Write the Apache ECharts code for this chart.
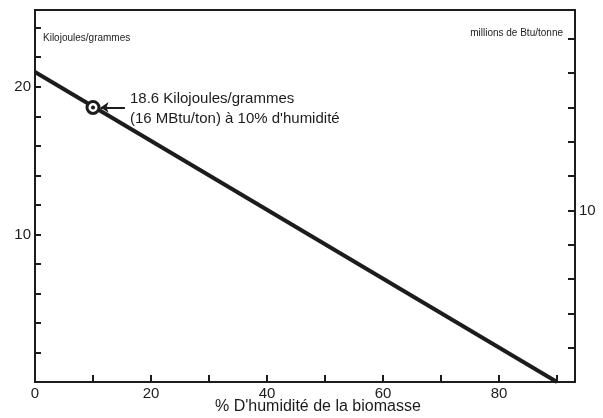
<!DOCTYPE html>
<html>
<head>
<meta charset="utf-8">
<script src="https://cdn.jsdelivr.net/npm/echarts@6/dist/echarts.min.js"></script>
<style>html,body{margin:0;padding:0;background:#fff;}#c{width:603px;height:418px;}</style>
</head>
<body>
<div id="c"></div>
<script>
// ---- data ----
var moisture = [0, 90];            // % humidité
var energy = [21, 0];              // kJ/g
var pointMoisture = [10];
var pointEnergy = [18.6];
var xLabelValues = [0, 20, 40, 60, 80];
var leftLabelValues = [10, 20];
var rightLabelValues = [10];
var mbtuPerKj = 16 / 18.6;         // 18.6 kJ/g = 16 MBtu/ton
var annotationLines = ['18.6 Kilojoules/grammes', "(16 MBtu/ton) à 10% d'humidité"];

var FONT = 'Liberation Sans';
var INK = '#1c1c1c';
var xMax = 93.1, yMax = 25.2;

var chart = echarts.init(document.getElementById('c'), null, {renderer: 'canvas'});
chart.setOption({
  animation: false,
  backgroundColor: '#fff',
  grid: {left: 35, right: 28, top: 10, bottom: 36, show: true, borderColor: INK, borderWidth: 2, backgroundColor: 'transparent'},
  xAxis: {
    type: 'value', min: 0, max: xMax, interval: 10,
    axisLine: {show: true, lineStyle: {color: INK, width: 2}},
    axisTick: {show: true, inside: true, length: 7, lineStyle: {color: INK, width: 2}},
    splitLine: {show: false},
    axisLabel: {
      color: INK, fontFamily: FONT, fontSize: 15, margin: 4, showMaxLabel: false,
      formatter: function (v) { return xLabelValues.indexOf(v) >= 0 ? String(v) : ''; }
    }
  },
  yAxis: [{
    type: 'value', min: 0, max: yMax, interval: 2, position: 'left',
    axisLine: {show: true, lineStyle: {color: INK, width: 2}},
    axisTick: {show: true, inside: true, length: 6, lineStyle: {color: INK, width: 2}},
    splitLine: {show: false},
    axisLabel: {
      color: INK, fontFamily: FONT, fontSize: 15, margin: 4,
      formatter: function (v) { return leftLabelValues.indexOf(v) >= 0 ? String(v) : ''; }
    }
  }, {
    type: 'value', min: 0, max: yMax * mbtuPerKj, interval: 2, position: 'right',
    axisLine: {show: true, lineStyle: {color: INK, width: 2}},
    axisTick: {show: true, inside: true, length: 7, lineStyle: {color: INK, width: 2}},
    splitLine: {show: false},
    axisLabel: {
      color: INK, fontFamily: FONT, fontSize: 15, margin: 4,
      formatter: function (v) { return rightLabelValues.indexOf(v) >= 0 ? String(v) : ''; }
    }
  }],
  series: [{
    type: 'line',
    data: moisture.map(function (m, i) { return [m, energy[i]]; }),
    symbol: 'none',
    lineStyle: {color: INK, width: 4},
    z: 3,
    markLine: {
      silent: true,
      symbol: ['none', 'arrow'],
      symbolSize: [8, 8],
      lineStyle: {color: INK, width: 2, type: 'solid'},
      label: {show: false},
      data: [[{coord: [15.5, pointEnergy[0]]}, {coord: [11.3, pointEnergy[0]]}]]
    }
  }, {
    type: 'scatter',
    data: pointMoisture.map(function (m, i) { return [m, pointEnergy[i]]; }),
    symbol: 'circle', symbolSize: 12,
    itemStyle: {color: '#fff', borderColor: INK, borderWidth: 3, opacity: 1},
    z: 5
  }, {
    type: 'scatter',
    data: pointMoisture.map(function (m, i) { return [m, pointEnergy[i]]; }),
    symbol: 'circle', symbolSize: 4,
    itemStyle: {color: INK, opacity: 1},
    z: 6
  }],
  graphic: [
    {type: 'text', left: 43, top: 33, style: {text: 'Kilojoules/grammes', font: '10px "Liberation Sans"', fill: INK}},
    {type: 'text', right: 40, top: 28, style: {text: 'millions de Btu/tonne', font: '10px "Liberation Sans"', fill: INK, textAlign: 'right'}},
    {type: 'text', left: 130, top: 89, style: {text: annotationLines.join('\n'), font: '15px "Liberation Sans"', lineHeight: 20, fill: INK}},
    {type: 'text', left: 215, top: 399, style: {text: "% D'humidité de la biomasse", font: '16px "Liberation Sans"', fill: INK}}
  ]
});
</script>
</body>
</html>
